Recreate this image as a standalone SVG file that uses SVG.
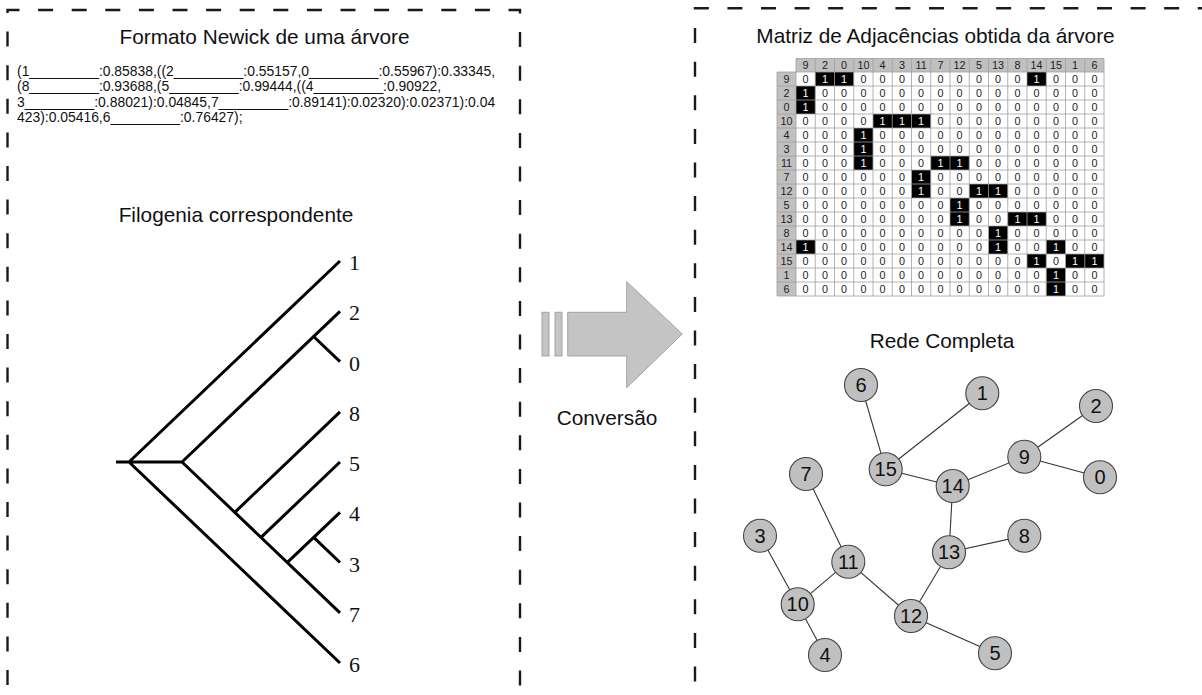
<svg xmlns="http://www.w3.org/2000/svg" width="1202" height="695" viewBox="0 0 1202 695">
<style>
.frame{fill:none;stroke:#1a1a1a;stroke-width:2.4;stroke-dasharray:15 18.6}
.title{font-family:"Liberation Sans",Arial,sans-serif;font-size:20.8px;fill:#111;text-anchor:middle}
.nw{font-family:"Liberation Sans",Arial,sans-serif;font-size:13.9px;fill:#111}
.tree{fill:none;stroke:#000;stroke-width:3}
.leaf{font-family:"Liberation Serif","Times New Roman",serif;font-size:22px;fill:#111}
.arrow{fill:#c4c4c4;stroke:#a3a3a3;stroke-width:1}
.grid{stroke:#a0a0a0;stroke-width:0.8}
.hd{fill:#c0c0c0}
.m{font-family:"Liberation Sans",Arial,sans-serif;font-size:10.8px;fill:#222;text-anchor:middle}
.w{fill:#fff}
.edge{stroke:#333;stroke-width:1.1}
.node circle{fill:#c0c0c0;stroke:#444;stroke-width:1.1}
.node text{font-family:"Liberation Sans",Arial,sans-serif;font-size:20px;fill:#111;text-anchor:middle}
</style>

<!-- frames -->
<path class="frame" d="M7.5,718.6 V10 H520 V720"/>
<path class="frame" d="M695,715.1 V8.3 H1220"/>

<!-- left panel -->
<text class="title" x="264.5" y="43.5">Formato Newick de uma árvore</text>
<text class="nw" x="17" y="76">(1_________:0.85838,((2_________:0.55157,0_________:0.55967):0.33345,</text>
<text class="nw" x="17" y="91.3">(8_________:0.93688,(5_________:0.99444,((4_________:0.90922,</text>
<text class="nw" x="17" y="106.6">3_________:0.88021):0.04845,7_________:0.89141):0.02320):0.02371):0.04</text>
<text class="nw" x="17" y="121.9">423):0.05416,6_________:0.76427);</text>

<text class="title" x="236" y="222">Filogenia correspondente</text>
<g id="tree">
<path class="tree" d="M116,462 H182 M129,462 L340,261 M129,462 L340,663 M182,462 L340,311.3 M313.6,336.5 L340,361.6 M182,462 L340,612.8 M234.8,512.3 L340,411.8 M261,537.4 L340,462 M287.4,562.4 L340,512.3 M313.7,537.4 L340,562.5"/>
<text class="leaf" x="349" y="270">1</text>
<text class="leaf" x="349" y="320.3">2</text>
<text class="leaf" x="349" y="370.5">0</text>
<text class="leaf" x="349" y="420.8">8</text>
<text class="leaf" x="349" y="471">5</text>
<text class="leaf" x="349" y="521.3">4</text>
<text class="leaf" x="349" y="571.5">3</text>
<text class="leaf" x="349" y="621.8">7</text>
<text class="leaf" x="349" y="672">6</text>
</g>

<!-- conversion arrow -->
<g id="conversao">
<rect class="arrow" x="542" y="312.3" width="7" height="43.7"/>
<rect class="arrow" x="555" y="312.3" width="7" height="43.7"/>
<path class="arrow" d="M567.7,312.3 H626.7 V281.7 L682.3,334 L626.7,387.7 V356 H567.7 Z"/>
<text class="title" x="607" y="425">Conversão</text>
</g>

<!-- adjacency matrix -->
<text class="title" x="935.5" y="43">Matriz de Adjacências obtida da árvore</text>
<g id="matriz">
<rect x="777" y="58.5" width="327" height="237.5" fill="#fff"/>
<rect class="hd" x="796" y="58.5" width="308" height="13.5"/>
<rect class="hd" x="777" y="72" width="19" height="224"/>
<g fill="#000">
<rect x="815.25" y="72" width="38.5" height="14"/>
<rect x="1027" y="72" width="19.25" height="14"/>
<rect x="796" y="86" width="19.25" height="28"/>
<rect x="873" y="114" width="57.75" height="14"/>
<rect x="853.75" y="128" width="19.25" height="42"/>
<rect x="930.75" y="156" width="38.5" height="14"/>
<rect x="911.5" y="170" width="19.25" height="28"/>
<rect x="969.25" y="184" width="38.5" height="14"/>
<rect x="950" y="198" width="19.25" height="28"/>
<rect x="1007.75" y="212" width="38.5" height="14"/>
<rect x="988.5" y="226" width="19.25" height="28"/>
<rect x="796" y="240" width="19.25" height="14"/>
<rect x="1046.25" y="240" width="19.25" height="14"/>
<rect x="1027" y="254" width="19.25" height="14"/>
<rect x="1065.5" y="254" width="38.5" height="14"/>
<rect x="1046.25" y="268" width="19.25" height="28"/>
</g>
<g class="grid">
<path d="M796,58.5 H1104 M777,72 H1104 M777,86 H1104 M777,100 H1104 M777,114 H1104 M777,128 H1104 M777,142 H1104 M777,156 H1104 M777,170 H1104 M777,184 H1104 M777,198 H1104 M777,212 H1104 M777,226 H1104 M777,240 H1104 M777,254 H1104 M777,268 H1104 M777,282 H1104 M777,296 H1104"/>
<path d="M777,72 V296 M796,58.5 V296 M815.25,58.5 V296 M834.5,58.5 V296 M853.75,58.5 V296 M873,58.5 V296 M892.25,58.5 V296 M911.5,58.5 V296 M930.75,58.5 V296 M950,58.5 V296 M969.25,58.5 V296 M988.5,58.5 V296 M1007.75,58.5 V296 M1027,58.5 V296 M1046.25,58.5 V296 M1065.5,58.5 V296 M1084.75,58.5 V296 M1104,58.5 V296"/>
</g>
<text class="m" y="69"><tspan x="805.6">9</tspan><tspan x="824.9">2</tspan><tspan x="844.1">0</tspan><tspan x="863.4">10</tspan><tspan x="882.6">4</tspan><tspan x="901.9">3</tspan><tspan x="921.1">11</tspan><tspan x="940.4">7</tspan><tspan x="959.6">12</tspan><tspan x="978.9">5</tspan><tspan x="998.1">13</tspan><tspan x="1017.4">8</tspan><tspan x="1036.6">14</tspan><tspan x="1055.9">15</tspan><tspan x="1075.1">1</tspan><tspan x="1094.4">6</tspan></text>
<g class="m">
<text x="786.5" y="83">9</text>
<text x="786.5" y="97">2</text>
<text x="786.5" y="111">0</text>
<text x="786.5" y="125">10</text>
<text x="786.5" y="139">4</text>
<text x="786.5" y="153">3</text>
<text x="786.5" y="167">11</text>
<text x="786.5" y="181">7</text>
<text x="786.5" y="195">12</text>
<text x="786.5" y="209">5</text>
<text x="786.5" y="223">13</text>
<text x="786.5" y="237">8</text>
<text x="786.5" y="251">14</text>
<text x="786.5" y="265">15</text>
<text x="786.5" y="279">1</text>
<text x="786.5" y="293">6</text>
</g>
<g class="m">
<text x="805.6 824.9 844.1 863.4 882.6 901.9 921.1 940.4 959.6 978.9 998.1 1017.4 1036.6 1055.9 1075.1 1094.4" y="83">0<tspan class="w">11</tspan>000000000<tspan class="w">1</tspan>000</text>
<text x="805.6 824.9 844.1 863.4 882.6 901.9 921.1 940.4 959.6 978.9 998.1 1017.4 1036.6 1055.9 1075.1 1094.4" y="97"><tspan class="w">1</tspan>000000000000000</text>
<text x="805.6 824.9 844.1 863.4 882.6 901.9 921.1 940.4 959.6 978.9 998.1 1017.4 1036.6 1055.9 1075.1 1094.4" y="111"><tspan class="w">1</tspan>000000000000000</text>
<text x="805.6 824.9 844.1 863.4 882.6 901.9 921.1 940.4 959.6 978.9 998.1 1017.4 1036.6 1055.9 1075.1 1094.4" y="125">0000<tspan class="w">111</tspan>000000000</text>
<text x="805.6 824.9 844.1 863.4 882.6 901.9 921.1 940.4 959.6 978.9 998.1 1017.4 1036.6 1055.9 1075.1 1094.4" y="139">000<tspan class="w">1</tspan>000000000000</text>
<text x="805.6 824.9 844.1 863.4 882.6 901.9 921.1 940.4 959.6 978.9 998.1 1017.4 1036.6 1055.9 1075.1 1094.4" y="153">000<tspan class="w">1</tspan>000000000000</text>
<text x="805.6 824.9 844.1 863.4 882.6 901.9 921.1 940.4 959.6 978.9 998.1 1017.4 1036.6 1055.9 1075.1 1094.4" y="167">000<tspan class="w">1</tspan>000<tspan class="w">11</tspan>0000000</text>
<text x="805.6 824.9 844.1 863.4 882.6 901.9 921.1 940.4 959.6 978.9 998.1 1017.4 1036.6 1055.9 1075.1 1094.4" y="181">000000<tspan class="w">1</tspan>000000000</text>
<text x="805.6 824.9 844.1 863.4 882.6 901.9 921.1 940.4 959.6 978.9 998.1 1017.4 1036.6 1055.9 1075.1 1094.4" y="195">000000<tspan class="w">1</tspan>00<tspan class="w">11</tspan>00000</text>
<text x="805.6 824.9 844.1 863.4 882.6 901.9 921.1 940.4 959.6 978.9 998.1 1017.4 1036.6 1055.9 1075.1 1094.4" y="209">00000000<tspan class="w">1</tspan>0000000</text>
<text x="805.6 824.9 844.1 863.4 882.6 901.9 921.1 940.4 959.6 978.9 998.1 1017.4 1036.6 1055.9 1075.1 1094.4" y="223">00000000<tspan class="w">1</tspan>00<tspan class="w">11</tspan>000</text>
<text x="805.6 824.9 844.1 863.4 882.6 901.9 921.1 940.4 959.6 978.9 998.1 1017.4 1036.6 1055.9 1075.1 1094.4" y="237">0000000000<tspan class="w">1</tspan>00000</text>
<text x="805.6 824.9 844.1 863.4 882.6 901.9 921.1 940.4 959.6 978.9 998.1 1017.4 1036.6 1055.9 1075.1 1094.4" y="251"><tspan class="w">1</tspan>000000000<tspan class="w">1</tspan>00<tspan class="w">1</tspan>00</text>
<text x="805.6 824.9 844.1 863.4 882.6 901.9 921.1 940.4 959.6 978.9 998.1 1017.4 1036.6 1055.9 1075.1 1094.4" y="265">000000000000<tspan class="w">1</tspan>0<tspan class="w">11</tspan></text>
<text x="805.6 824.9 844.1 863.4 882.6 901.9 921.1 940.4 959.6 978.9 998.1 1017.4 1036.6 1055.9 1075.1 1094.4" y="279">0000000000000<tspan class="w">1</tspan>00</text>
<text x="805.6 824.9 844.1 863.4 882.6 901.9 921.1 940.4 959.6 978.9 998.1 1017.4 1036.6 1055.9 1075.1 1094.4" y="293">0000000000000<tspan class="w">1</tspan>00</text>
</g>
</g>

<!-- network -->
<text class="title" x="942" y="348">Rede Completa</text>
<g id="connectors">
<line class="edge" x1="861" y1="385" x2="885.7" y2="469.3"/>
<line class="edge" x1="982.3" y1="393.3" x2="885.7" y2="469.3"/>
<line class="edge" x1="885.7" y1="469.3" x2="952.7" y2="486"/>
<line class="edge" x1="952.7" y1="486" x2="1024.3" y2="456.7"/>
<line class="edge" x1="1024.3" y1="456.7" x2="1096" y2="406"/>
<line class="edge" x1="1024.3" y1="456.7" x2="1100" y2="477.3"/>
<line class="edge" x1="952.7" y1="486" x2="949" y2="552.3"/>
<line class="edge" x1="949" y1="552.3" x2="1024.3" y2="535.7"/>
<line class="edge" x1="949" y1="552.3" x2="911" y2="616"/>
<line class="edge" x1="911" y1="616" x2="848.3" y2="561.7"/>
<line class="edge" x1="911" y1="616" x2="995" y2="653.3"/>
<line class="edge" x1="848.3" y1="561.7" x2="806" y2="474"/>
<line class="edge" x1="848.3" y1="561.7" x2="797.7" y2="604.3"/>
<line class="edge" x1="797.7" y1="604.3" x2="760" y2="535.7"/>
<line class="edge" x1="797.7" y1="604.3" x2="825" y2="655"/>
</g>
<g id="n6" class="node"><circle cx="861" cy="385" r="16.5"/><text x="861" y="392">6</text></g>
<g id="n1" class="node"><circle cx="982.3" cy="393.3" r="16.5"/><text x="982.3" y="400.3">1</text></g>
<g id="n2" class="node"><circle cx="1096" cy="406" r="16.5"/><text x="1096" y="413">2</text></g>
<g id="n9" class="node"><circle cx="1024.3" cy="456.7" r="16.5"/><text x="1024.3" y="463.7">9</text></g>
<g id="n0" class="node"><circle cx="1100" cy="477.3" r="16.5"/><text x="1100" y="484.3">0</text></g>
<g id="n15" class="node"><circle cx="885.7" cy="469.3" r="16.5"/><text x="885.7" y="476.3">15</text></g>
<g id="n14" class="node"><circle cx="952.7" cy="486" r="16.5"/><text x="952.7" y="493">14</text></g>
<g id="n7" class="node"><circle cx="806" cy="474" r="16.5"/><text x="806" y="481">7</text></g>
<g id="n8" class="node"><circle cx="1024.3" cy="535.7" r="16.5"/><text x="1024.3" y="542.7">8</text></g>
<g id="n13" class="node"><circle cx="949" cy="552.3" r="16.5"/><text x="949" y="559.3">13</text></g>
<g id="n3" class="node"><circle cx="760" cy="535.7" r="16.5"/><text x="760" y="542.7">3</text></g>
<g id="n11" class="node"><circle cx="848.3" cy="561.7" r="16.5"/><text x="848.3" y="568.7">11</text></g>
<g id="n10" class="node"><circle cx="797.7" cy="604.3" r="16.5"/><text x="797.7" y="611.3">10</text></g>
<g id="n12" class="node"><circle cx="911" cy="616" r="16.5"/><text x="911" y="623">12</text></g>
<g id="n4" class="node"><circle cx="825" cy="655" r="16.5"/><text x="825" y="662">4</text></g>
<g id="n5" class="node"><circle cx="995" cy="653.3" r="16.5"/><text x="995" y="660.3">5</text></g>
</svg>
